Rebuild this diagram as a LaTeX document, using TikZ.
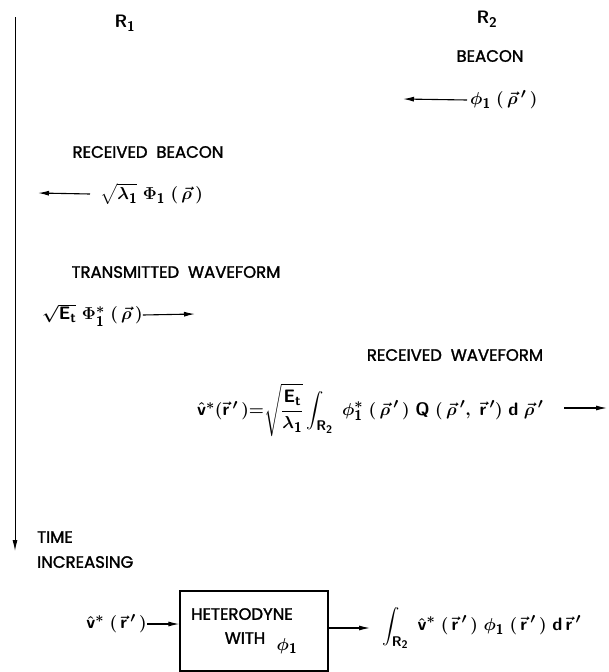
\documentclass[tikz,border=0pt]{standalone}
\usepackage{amsmath}
\usepackage{fontspec}
\setmainfont{Poppins}[FakeBold=1.6]
\usetikzlibrary{arrows.meta}
\DeclareMathSizes{18}{18}{14}{11}
\newcommand{\sv}[1]{\mathsf{#1}}
\newcommand{\vr}{\vec{\sv{r}}\,'}
\newcommand{\vrho}{\vec{\rho}\,'}
\begin{document}
\begin{tikzpicture}[x=1pt,y=-1pt,
  lbl/.style={inner sep=0pt,font=\fontsize{16.5}{18}\selectfont},
  mth/.style={inner sep=0pt,font=\fontsize{18}{20}\selectfont\boldmath},
  arr/.style={line width=1.1pt,-{Latex[length=11pt,width=5pt]}},
  boxst/.style={draw,line width=1.3pt,minimum width=148pt,minimum height=80pt,inner sep=0pt}]
\useasboundingbox (0,0) rectangle (609,672);
% time axis
\coordinate (ttop) at (15,17);
\coordinate (tbot) at (15,551);
\draw[arr,line width=1pt] (ttop) -- (tbot);
\node[lbl,anchor=west] (time) at (37,537) {TIME};
\node[lbl,anchor=west] (incr) at (37,562) {INCREASING};
% region labels
\node[mth] (r1) at (125,23) {$\sv{R}_{\sv{1}}$};
\node[mth] (r2) at (487,19) {$\sv{R}_{\sv{2}}$};
% beacon
\node[lbl] (beacon) at (490,56) {BEACON};
\node[mth,anchor=west] (phi) at (470,100) {$\phi_{\sv{1}}\;(\,\vrho\,)$};
\coordinate (phiend) at (403,99);
\draw[arr] ([xshift=-3pt]phi.west) -- (phiend);
% received beacon
\node[lbl] (recb) at (148,152) {RECEIVED\ \ BEACON};
\node[mth,anchor=west] (rbf) at (100,194) {$\sqrt{\lambda_{\sv{1}}}\;\Phi_{\sv{1}}\;(\,\vec{\rho}\,)$};
\coordinate (rbend) at (38,193);
\draw[arr] ([xshift=-10pt]rbf.west) -- (rbend);
% transmitted waveform
\node[lbl] (trw) at (176,272) {TRANSMITTED\ \ WAVEFORM};
\node[mth,anchor=west] (twf) at (42,315) {$\sqrt{\sv{E}_{\sv{t}}}\;\Phi^{*}_{\sv{1}}\;(\,\vec{\rho}\,)$};
\coordinate (twend) at (195,314);
\draw[arr] (twf.east) -- (twend);
% received waveform
\node[lbl] (rcw) at (455,355) {RECEIVED\ \ WAVEFORM};
\node[mth,anchor=west] (rwf) at (197,410) {$\hat{\sv{v}}^{*}(\vr\,){=}\sqrt{\dfrac{\sv{E}_{\sv{t}}}{\lambda_{\sv{1}}}}\displaystyle\int_{\sv{R}_{\sv{2}}}\;\phi^{*}_{\sv{1}}\;(\,\vrho\,)\;\sv{Q}\;(\,\vrho,\;\vr)\;\sv{d}\;\vrho$};
\coordinate (rwstart) at (564,408);
\coordinate (rwend) at (607,408);
\draw[arr] (rwstart) -- (rwend);
% heterodyne
\node[boxst] (het) at (254,631) {};
\node[lbl] (hett) at (242,614) {HETERODYNE};
\node[lbl] (hetw) at (245,638) {WITH};
\node[mth] (hetp) at (287,646) {$\phi_{\sv{1}}$};
\node[mth,anchor=east] (vin) at (147,624) {$\hat{\sv{v}}^{*}\;(\,\vr\,)$};
\draw[arr] (vin.east) -- (het.west |- vin.east);
\node[mth,anchor=west] (outf) at (382,628) {$\displaystyle\int_{\sv{R}_{\sv{2}}}\;\hat{\sv{v}}^{*}\;(\,\vr\,)\;\phi_{\sv{1}}\;(\,\vr\,)\;\sv{d}\,\vr$};
\draw[arr] (het.east |- outf.west) -- ([xshift=-12pt]outf.west);
\end{tikzpicture}
\end{document}
